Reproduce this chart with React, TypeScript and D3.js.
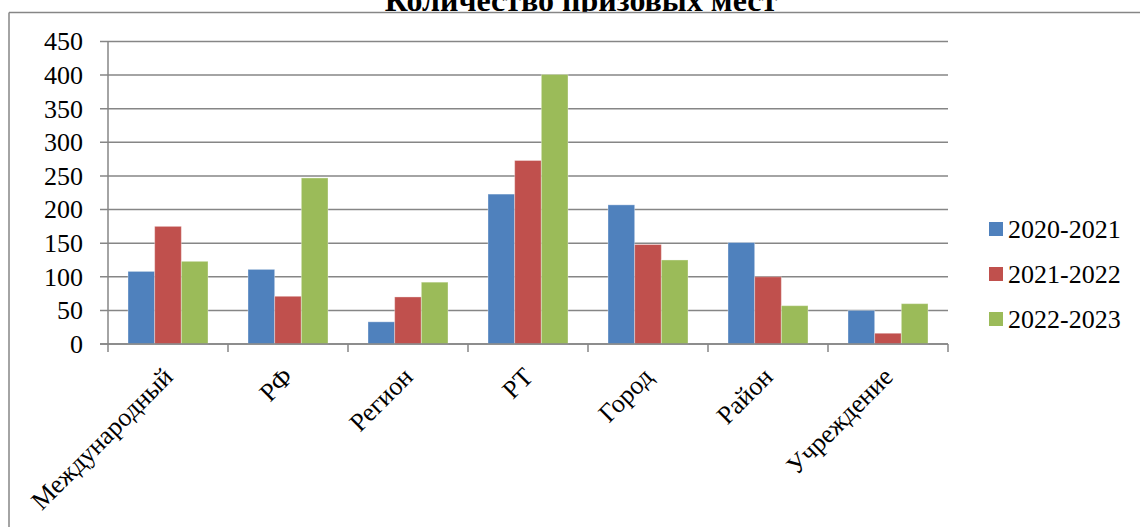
import React from 'react';
import * as d3 from 'd3';

const categories = ['Международный', 'РФ', 'Регион', 'РТ', 'Город', 'Район', 'Учреждение'];
const seriesNames = ['2020-2021', '2021-2022', '2022-2023'];
const values2020 = [108, 111, 33, 223, 207, 151, 50];
const values2021 = [175, 71, 70, 273, 148, 100, 16];
const values2022 = [123, 247, 92, 401, 125, 57, 60];
const colors = ['#4F81BD', '#C0504D', '#9BBB59'];
const yTicks = [0, 50, 100, 150, 200, 250, 300, 350, 400, 450];

const W = 1140;
const H = 527;
const FONT = "'Liberation Serif', serif";

export default function App() {
  const series = [values2020, values2021, values2022];

  // plot area
  const left = 108;
  const right = 948;
  const top = 41.5;
  const bottom = 344;

  const x0 = d3.scaleBand<string>().domain(categories).range([left, right]);
  // three bars take 2/3 of each category, the rest is split on both sides
  const x1 = d3
    .scaleBand<number>()
    .domain(d3.range(seriesNames.length))
    .range([0, x0.bandwidth()])
    .paddingOuter(0.75)
    .paddingInner(0);
  const y = d3.scaleLinear().domain([0, 450]).range([bottom, top]);

  const grid = '#868686';
  const bandEdges = categories.map((c) => x0(c)!).concat([right]);

  return (
    <svg width={W} height={H} style={{ position: 'absolute', left: 0, top: 0, background: '#fff' }}>
      <defs>
        <clipPath id="titleClip">
          <rect x={0} y={0} width={W} height={12} />
        </clipPath>
      </defs>

      {/* title, cut by the page edge */}
      <text
        x={581}
        y={10.5}
        textAnchor="middle"
        fontSize={32}
        fontWeight="bold"
        clipPath="url(#titleClip)"
        style={{ fontFamily: FONT }}
      >
        Количество призовых мест
      </text>

      {/* chart frame (only top and left visible) */}
      <line x1={9} x2={W} y1={12.5} y2={12.5} stroke={grid} strokeWidth={1.5} />
      <line x1={9} x2={9} y1={12.5} y2={H} stroke={grid} strokeWidth={1.5} />

      {/* gridlines and y ticks */}
      {yTicks.map((t) => (
        <g key={t}>
          <line x1={left - 8} x2={right} y1={y(t)} y2={y(t)} stroke={grid} strokeWidth={1.5} />
          <text x={83} y={y(t)} dy="0.34em" textAnchor="end" fontSize={26} style={{ fontFamily: FONT }}>
            {t}
          </text>
        </g>
      ))}

      {/* bars */}
      {categories.map((c, i) => (
        <g key={c} transform={`translate(${x0(c)},0)`}>
          {series.map((vals, s) => (
            <rect
              key={s}
              x={x1(s)!}
              y={y(vals[i])}
              width={x1.bandwidth()}
              height={bottom - y(vals[i])}
              fill={colors[s]}
              stroke="#ffffff"
              strokeOpacity={0.35}
              strokeWidth={1}
            />
          ))}
        </g>
      ))}

      {/* axes */}
      <line x1={left} x2={left} y1={top} y2={bottom} stroke={grid} strokeWidth={1.5} />
      <line x1={left - 8} x2={right} y1={bottom} y2={bottom} stroke={grid} strokeWidth={1.5} />
      {bandEdges.map((bx, i) => (
        <line key={i} x1={bx} x2={bx} y1={bottom} y2={bottom + 8} stroke={grid} strokeWidth={1.5} />
      ))}

      {/* category labels */}
      {categories.map((c) => {
        const cx = x0(c)! + x0.bandwidth() / 2;
        return (
          <text
            key={c}
            transform={`translate(${cx},${372}) rotate(-45)`}
            textAnchor="end"
            dy="0.35em"
            fontSize={26}
            style={{ fontFamily: FONT }}
          >
            {c}
          </text>
        );
      })}

      {/* legend */}
      {seriesNames.map((name, s) => {
        const ly = 229 + s * 45;
        return (
          <g key={name}>
            <rect x={989} y={ly - 7} width={14} height={14} fill={colors[s]} />
            <text x={1008} y={ly} dy="0.34em" fontSize={26} style={{ fontFamily: FONT }}>
              {name}
            </text>
          </g>
        );
      })}
    </svg>
  );
}
